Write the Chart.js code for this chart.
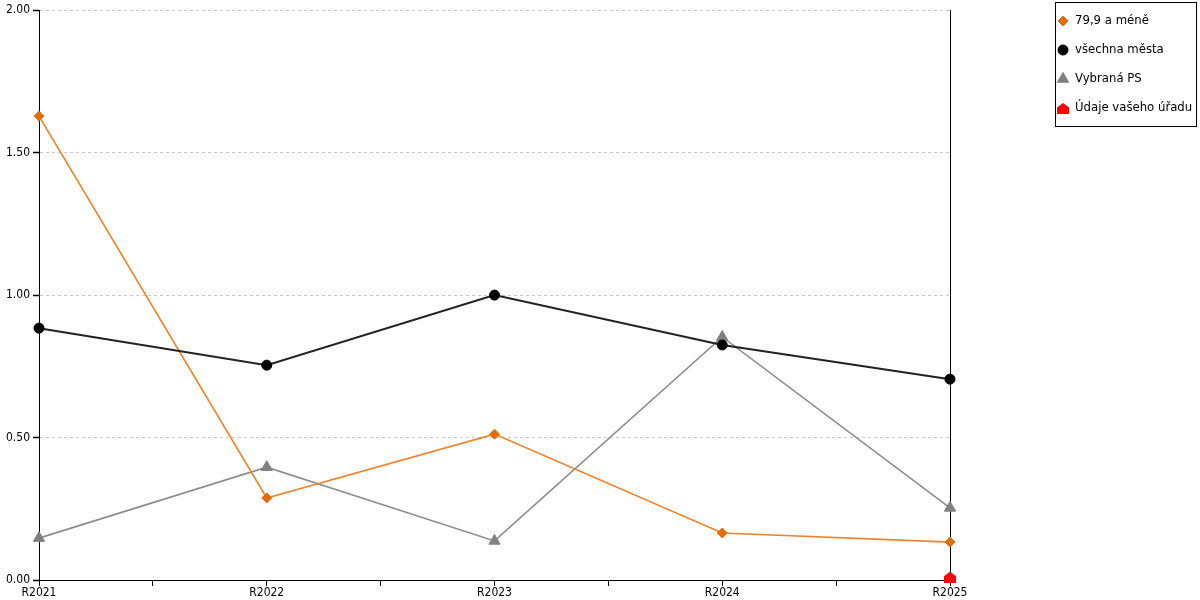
<!DOCTYPE html>
<html><head><meta charset="utf-8">
<script src="https://cdn.jsdelivr.net/npm/chart.js@4/dist/chart.umd.min.js"></script>
<style>html,body{margin:0;padding:0;background:#fff}#wrap{width:1200px;height:600px}</style>
</head><body><div id="wrap"><canvas id="c" width="1200" height="600"></canvas></div>
<script>
const categories = ['R2021','R2022','R2023','R2024','R2025'];
const seriesNames = ['79,9 a méně','všechna města','Vybraná PS','Údaje vašeho úřadu'];
const orangeValues = [1.628, 0.288, 0.512, 0.165, 0.133];
const blackValues = [0.884, 0.754, 1.0, 0.825, 0.705];
const grayValues = [0.147, 0.396, 0.137, 0.853, 0.253];
const redValues = [null, null, null, null, 0.01];
const yTicks = [0, 0.5, 1, 1.5, 2];

const FONT = '"DejaVu Sans Condensed", "DejaVu Sans", sans-serif';

function house(color){
  const c=document.createElement('canvas');c.width=12;c.height=11;
  const x=c.getContext('2d');x.fillStyle=color;x.beginPath();
  x.moveTo(6,0);x.lineTo(12,4.5);x.lineTo(12,11);x.lineTo(0,11);x.lineTo(0,4.5);x.closePath();x.fill();
  return c;
}
const houseImg = house('#ff0000');
const toPts = arr => arr.map((v,i)=>({x:i,y:v}));

const legendPlugin = {
  id:'boxLegend',
  afterDraw(chart){
    const ctx=chart.ctx;
    const ds=chart.data.datasets;
    const left=chart.width-145, top=2, w=142, h=125;
    ctx.save();
    ctx.fillStyle='#fff';ctx.fillRect(left,top,w,h);
    ctx.strokeStyle='#000';ctx.lineWidth=1;ctx.strokeRect(left+0.5,top+0.5,w-1,h-1);
    ctx.font='13px '+FONT;ctx.textBaseline='middle';
    ds.forEach((d,i)=>{
      const cy=top+19+i*29, cx=left+8;
      if(d.pointStyle instanceof HTMLCanvasElement){ctx.drawImage(d.pointStyle,cx-6,cy-5);}
      else{
        ctx.fillStyle=d.pointBackgroundColor;ctx.strokeStyle=d.pointBorderColor;ctx.lineWidth=1;
        Chart.helpers.drawPoint(ctx,{pointStyle:d.pointStyle,radius:d.pointRadius,borderWidth:1,rotation:0},cx,cy);
      }
      ctx.fillStyle='#000';ctx.fillText(d.label,left+20,cy);
    });
    ctx.restore();
  }
};

new Chart(document.getElementById('c'),{
  type:'line',
  data:{datasets:[
    {label:seriesNames[0],data:toPts(orangeValues),borderColor:'#f0822a',borderWidth:1.6,pointStyle:'rectRot',pointRadius:5,pointBackgroundColor:'#e36c09',pointBorderColor:'#e36c09',pointBorderWidth:1,order:2,clip:false},
    {label:seriesNames[1],data:toPts(blackValues),borderColor:'#222222',borderWidth:2,pointStyle:'circle',pointRadius:5,pointBackgroundColor:'#000',pointBorderColor:'#000',pointBorderWidth:1,order:1,clip:false},
    {label:seriesNames[2],data:toPts(grayValues),borderColor:'#8c8c8c',borderWidth:1.6,pointStyle:'triangle',pointRadius:6.5,pointBackgroundColor:'#808080',pointBorderColor:'#808080',pointBorderWidth:1,order:3,clip:false},
    {label:seriesNames[3],data:toPts(redValues),borderColor:'#ff0000',borderWidth:1.6,pointStyle:houseImg,pointRadius:6,pointBackgroundColor:'#ff0000',pointBorderColor:'#ff0000',order:0,clip:false}
  ]},
  options:{
    responsive:false,animation:false,
    layout:{padding:{top:10,right:250,left:0,bottom:0}},
    plugins:{legend:{display:false},tooltip:{enabled:false}},
    scales:{
      x:{type:'linear',min:0,max:categories.length-1,
        ticks:{stepSize:0.5,autoSkip:false,maxRotation:0,color:'#000',font:{family:FONT,size:12},padding:0,
          callback:v=>Number.isInteger(v)?categories[v]:''},
        grid:{drawOnChartArea:false,drawTicks:true,tickLength:6,tickColor:'#000',tickBorderDash:[]},
        border:{color:'#000',width:1},
        afterFit:s=>{s.height=20;}
      },
      y:{min:0,max:2,position:'left',
        afterBuildTicks:s=>{s.ticks=yTicks.map(v=>({value:v}));},
        ticks:{color:'#000',font:{family:FONT,size:12},padding:3,callback:v=>v.toFixed(2)},
        grid:{color:'#c8c8c8',drawTicks:true,tickLength:6,tickColor:'#000',tickWidth:1.5,tickBorderDash:[]},
        border:{color:'#000',width:1,dash:[3,3]},
        afterFit:s=>{s.width=39;}
      },
      y2:{position:'right',min:0,max:2,
        ticks:{display:false},grid:{display:false,drawTicks:false},
        border:{color:'#000',width:1},
        afterFit:s=>{s.width=0;}
      }
    }
  },
  plugins:[legendPlugin]
});
</script></body></html>
